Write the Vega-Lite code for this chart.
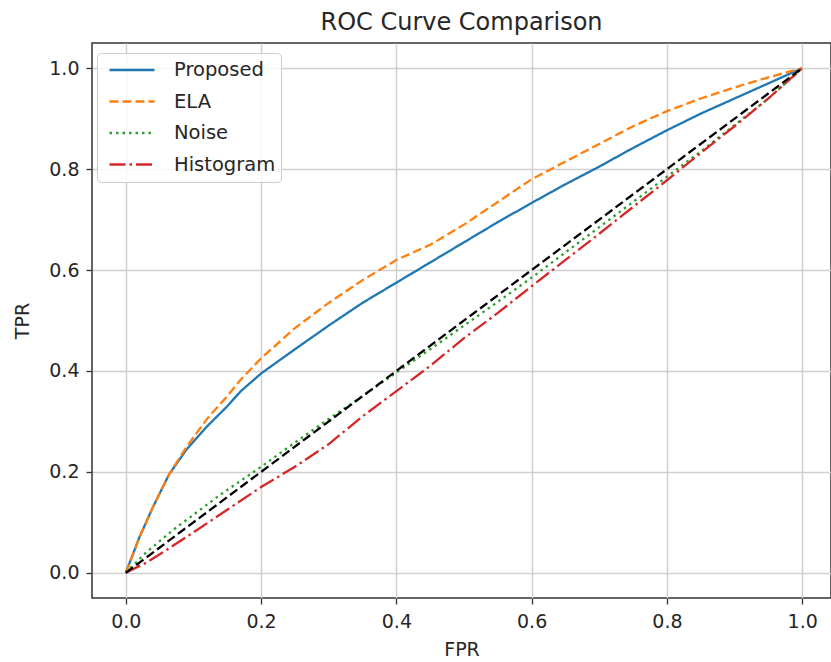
{
  "$schema": "https://vega.github.io/schema/vega-lite/v6.json",
  "width": 739,
  "height": 555,
  "autosize": {"type": "none"},
  "padding": {"left": 92, "top": 43, "right": 0, "bottom": 64},
  "background": "white",
  "config": {
    "font": "DejaVu Sans",
    "view": {"stroke": "#333333", "strokeWidth": 1.5},
    "axis": {
      "gridColor": "#d0d0d0",
      "gridWidth": 1.5,
      "domain": false,
      "tickColor": "#333333",
      "tickSize": 6,
      "tickWidth": 1.3,
      "labelFont": "DejaVu Sans",
      "labelFontSize": 19,
      "labelColor": "#262626",
      "titleFont": "DejaVu Sans",
      "titleFontSize": 19,
      "titleFontWeight": "normal",
      "titleColor": "#262626"
    }
  },
  "title": {
    "text": "ROC Curve Comparison",
    "font": "DejaVu Sans",
    "fontSize": 24,
    "fontWeight": "normal",
    "color": "#262626",
    "anchor": "middle",
    "offset": 8
  },
  "datasets": {
    "curves": [
      {"model": "Proposed", "fpr": 0, "tpr": 0},
      {"model": "Proposed", "fpr": 0.02, "tpr": 0.07},
      {"model": "Proposed", "fpr": 0.04, "tpr": 0.13},
      {"model": "Proposed", "fpr": 0.064, "tpr": 0.195},
      {"model": "Proposed", "fpr": 0.09, "tpr": 0.245},
      {"model": "Proposed", "fpr": 0.12, "tpr": 0.29},
      {"model": "Proposed", "fpr": 0.15, "tpr": 0.33},
      {"model": "Proposed", "fpr": 0.17, "tpr": 0.36},
      {"model": "Proposed", "fpr": 0.2, "tpr": 0.395},
      {"model": "Proposed", "fpr": 0.25, "tpr": 0.443},
      {"model": "Proposed", "fpr": 0.3, "tpr": 0.49},
      {"model": "Proposed", "fpr": 0.35, "tpr": 0.535},
      {"model": "Proposed", "fpr": 0.4, "tpr": 0.575},
      {"model": "Proposed", "fpr": 0.45, "tpr": 0.615},
      {"model": "Proposed", "fpr": 0.5, "tpr": 0.655},
      {"model": "Proposed", "fpr": 0.55, "tpr": 0.695},
      {"model": "Proposed", "fpr": 0.6, "tpr": 0.733},
      {"model": "Proposed", "fpr": 0.65, "tpr": 0.77},
      {"model": "Proposed", "fpr": 0.7, "tpr": 0.805},
      {"model": "Proposed", "fpr": 0.75, "tpr": 0.842},
      {"model": "Proposed", "fpr": 0.8, "tpr": 0.877},
      {"model": "Proposed", "fpr": 0.85, "tpr": 0.91},
      {"model": "Proposed", "fpr": 0.9, "tpr": 0.94},
      {"model": "Proposed", "fpr": 0.95, "tpr": 0.97},
      {"model": "Proposed", "fpr": 1, "tpr": 1},
      {"model": "ELA", "fpr": 0, "tpr": 0},
      {"model": "ELA", "fpr": 0.02, "tpr": 0.07},
      {"model": "ELA", "fpr": 0.04, "tpr": 0.13},
      {"model": "ELA", "fpr": 0.064, "tpr": 0.195},
      {"model": "ELA", "fpr": 0.09, "tpr": 0.25},
      {"model": "ELA", "fpr": 0.12, "tpr": 0.305},
      {"model": "ELA", "fpr": 0.15, "tpr": 0.35},
      {"model": "ELA", "fpr": 0.17, "tpr": 0.383},
      {"model": "ELA", "fpr": 0.2, "tpr": 0.425},
      {"model": "ELA", "fpr": 0.25, "tpr": 0.485},
      {"model": "ELA", "fpr": 0.3, "tpr": 0.535},
      {"model": "ELA", "fpr": 0.35, "tpr": 0.58},
      {"model": "ELA", "fpr": 0.4, "tpr": 0.62},
      {"model": "ELA", "fpr": 0.45, "tpr": 0.65},
      {"model": "ELA", "fpr": 0.5, "tpr": 0.69},
      {"model": "ELA", "fpr": 0.55, "tpr": 0.735},
      {"model": "ELA", "fpr": 0.6, "tpr": 0.78},
      {"model": "ELA", "fpr": 0.65, "tpr": 0.815},
      {"model": "ELA", "fpr": 0.7, "tpr": 0.85},
      {"model": "ELA", "fpr": 0.75, "tpr": 0.885},
      {"model": "ELA", "fpr": 0.8, "tpr": 0.915},
      {"model": "ELA", "fpr": 0.85, "tpr": 0.94},
      {"model": "ELA", "fpr": 0.9, "tpr": 0.962},
      {"model": "ELA", "fpr": 0.95, "tpr": 0.982},
      {"model": "ELA", "fpr": 1, "tpr": 1},
      {"model": "Noise", "fpr": 0, "tpr": 0},
      {"model": "Noise", "fpr": 0.03, "tpr": 0.04},
      {"model": "Noise", "fpr": 0.07, "tpr": 0.085},
      {"model": "Noise", "fpr": 0.1, "tpr": 0.115},
      {"model": "Noise", "fpr": 0.14, "tpr": 0.155},
      {"model": "Noise", "fpr": 0.2, "tpr": 0.21},
      {"model": "Noise", "fpr": 0.25, "tpr": 0.258},
      {"model": "Noise", "fpr": 0.3, "tpr": 0.305},
      {"model": "Noise", "fpr": 0.35, "tpr": 0.35},
      {"model": "Noise", "fpr": 0.4, "tpr": 0.397},
      {"model": "Noise", "fpr": 0.45, "tpr": 0.443},
      {"model": "Noise", "fpr": 0.5, "tpr": 0.49},
      {"model": "Noise", "fpr": 0.55, "tpr": 0.537},
      {"model": "Noise", "fpr": 0.6, "tpr": 0.585},
      {"model": "Noise", "fpr": 0.65, "tpr": 0.635},
      {"model": "Noise", "fpr": 0.7, "tpr": 0.685},
      {"model": "Noise", "fpr": 0.75, "tpr": 0.735},
      {"model": "Noise", "fpr": 0.8, "tpr": 0.785},
      {"model": "Noise", "fpr": 0.85, "tpr": 0.835},
      {"model": "Noise", "fpr": 0.9, "tpr": 0.887},
      {"model": "Noise", "fpr": 0.95, "tpr": 0.94},
      {"model": "Noise", "fpr": 1, "tpr": 1},
      {"model": "Histogram", "fpr": 0, "tpr": 0},
      {"model": "Histogram", "fpr": 0.03, "tpr": 0.02},
      {"model": "Histogram", "fpr": 0.06, "tpr": 0.045},
      {"model": "Histogram", "fpr": 0.1, "tpr": 0.08},
      {"model": "Histogram", "fpr": 0.15, "tpr": 0.125},
      {"model": "Histogram", "fpr": 0.2, "tpr": 0.17},
      {"model": "Histogram", "fpr": 0.25, "tpr": 0.21},
      {"model": "Histogram", "fpr": 0.3, "tpr": 0.255},
      {"model": "Histogram", "fpr": 0.35, "tpr": 0.31},
      {"model": "Histogram", "fpr": 0.4, "tpr": 0.36},
      {"model": "Histogram", "fpr": 0.45, "tpr": 0.41},
      {"model": "Histogram", "fpr": 0.5, "tpr": 0.465},
      {"model": "Histogram", "fpr": 0.55, "tpr": 0.515},
      {"model": "Histogram", "fpr": 0.6, "tpr": 0.568},
      {"model": "Histogram", "fpr": 0.65, "tpr": 0.62},
      {"model": "Histogram", "fpr": 0.7, "tpr": 0.672},
      {"model": "Histogram", "fpr": 0.75, "tpr": 0.725},
      {"model": "Histogram", "fpr": 0.8, "tpr": 0.778},
      {"model": "Histogram", "fpr": 0.85, "tpr": 0.832},
      {"model": "Histogram", "fpr": 0.9, "tpr": 0.885},
      {"model": "Histogram", "fpr": 0.95, "tpr": 0.94},
      {"model": "Histogram", "fpr": 1, "tpr": 1}
    ],
    "chance": [
      {"fpr": 0, "tpr": 0},
      {"fpr": 1, "tpr": 1}
    ]
  },
  "encoding": {
    "x": {
      "field": "fpr",
      "type": "quantitative",
      "scale": {"domain": [-0.05, 1.0426], "nice": false, "zero": false},
      "axis": {"title": "FPR", "values": [0, 0.2, 0.4, 0.6, 0.8, 1.0], "format": ".1f", "labelPadding": 8, "titlePadding": 9}
    },
    "y": {
      "field": "tpr",
      "type": "quantitative",
      "scale": {"domain": [-0.05, 1.05], "nice": false, "zero": false},
      "axis": {"title": "TPR", "values": [0, 0.2, 0.4, 0.6, 0.8, 1.0], "format": ".1f", "labelPadding": 7, "titlePadding": 16}
    }
  },
  "layer": [
    {
      "data": {"name": "curves"},
      "mark": {"type": "line", "strokeWidth": 2.3, "clip": true},
      "encoding": {
        "color": {
          "field": "model",
          "type": "nominal",
          "scale": {"domain": ["Proposed", "ELA", "Noise", "Histogram"], "range": ["#1f77b4", "#ff7f0e", "#2ca02c", "#d62728"]},
          "legend": {
            "title": null,
            "orient": "none",
            "legendX": 5,
            "legendY": 10,
            "symbolType": "stroke",
            "symbolSize": 2025,
            "symbolStrokeWidth": 2.3,
            "symbolOffset": 6,
            "clipHeight": 24,
            "labelFont": "DejaVu Sans",
            "labelFontSize": 19.5,
            "labelColor": "#262626",
            "labelOffset": 18,
            "padding": 5,
            "rowPadding": 7.5,
            "fillColor": "rgba(255,255,255,0.8)",
            "strokeColor": "#cccccc",
            "cornerRadius": 4
          }
        },
        "strokeDash": {
          "field": "model",
          "type": "nominal",
          "scale": {"domain": ["Proposed", "ELA", "Noise", "Histogram"], "range": [[1, 0], [9, 4], [2.5, 4], [16, 4, 2.5, 4]]},
          "legend": {
            "title": null,
            "orient": "none",
            "legendX": 5,
            "legendY": 10,
            "symbolType": "stroke",
            "symbolSize": 2025,
            "symbolStrokeWidth": 2.3,
            "symbolOffset": 6,
            "clipHeight": 24,
            "labelFont": "DejaVu Sans",
            "labelFontSize": 19.5,
            "labelColor": "#262626",
            "labelOffset": 18,
            "padding": 5,
            "rowPadding": 7.5,
            "fillColor": "rgba(255,255,255,0.8)",
            "strokeColor": "#cccccc",
            "cornerRadius": 4
          }
        },
        "order": {"field": "fpr", "type": "quantitative"}
      }
    },
    {
      "data": {"name": "chance"},
      "mark": {"type": "line", "color": "black", "strokeWidth": 2.3, "strokeDash": [9, 4]},
      "encoding": {}
    }
  ]
}
